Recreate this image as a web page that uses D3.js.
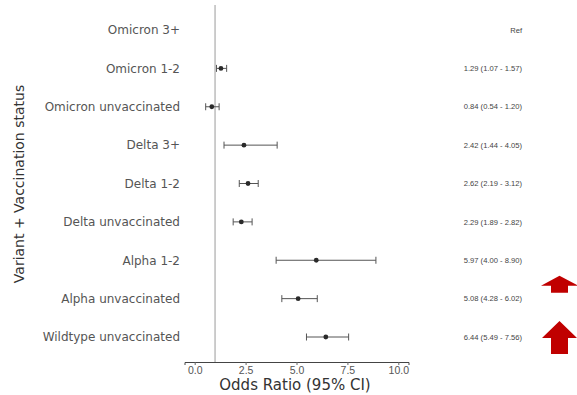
<!DOCTYPE html>
<html>
<head>
<meta charset="utf-8">
<script src="https://cdn.jsdelivr.net/npm/d3@7"></script>
<style>
  html, body { margin: 0; padding: 0; background: #fff; }
  svg { display: block; }
</style>
</head>
<body>
<svg id="chart" width="577" height="395"></svg>
<script>
// forest plot: odds ratio by variant + vaccination status
const categories = [
  "Omicron 3+",
  "Omicron 1-2",
  "Omicron unvaccinated",
  "Delta 3+",
  "Delta 1-2",
  "Delta unvaccinated",
  "Alpha 1-2",
  "Alpha unvaccinated",
  "Wildtype unvaccinated",
];
// null = reference group
const oddsRatio = [null, 1.29, 0.84, 2.42, 2.62, 2.29, 5.97, 5.08, 6.44];
const ciLow = [null, 1.07, 0.54, 1.44, 2.19, 1.89, 4.0, 4.28, 5.49];
const ciHigh = [null, 1.57, 1.2, 4.05, 3.12, 2.82, 8.9, 6.02, 7.56];
const orLabels = [
  "Ref",
  "1.29 (1.07 - 1.57)",
  "0.84 (0.54 - 1.20)",
  "2.42 (1.44 - 4.05)",
  "2.62 (2.19 - 3.12)",
  "2.29 (1.89 - 2.82)",
  "5.97 (4.00 - 8.90)",
  "5.08 (4.28 - 6.02)",
  "6.44 (5.49 - 7.56)",
];
const xTicks = [0, 2.5, 5, 7.5, 10];
const refValue = 1;
// red arrows pointing at rows on the right
const arrowRows = ["Alpha unvaccinated", "Wildtype unvaccinated"];

const svg = d3.select("#chart");

const x = d3.scaleLinear().domain([-0.5, 10.5]).range([184.5, 408.5]);
const y = d3.scalePoint().domain(categories).range([30, 337]);
const axisY = 362;

const rows = categories.map((c, i) => ({
  name: c,
  or: oddsRatio[i],
  lo: ciLow[i],
  hi: ciHigh[i],
  label: orLabels[i],
}));

// reference line at OR = 1
svg.append("line")
  .attr("x1", x(refValue)).attr("x2", x(refValue))
  .attr("y1", 5).attr("y2", axisY)
  .attr("stroke", "#9a9a9a")
  .attr("stroke-width", 1);

// x axis
const xAxis = svg.append("g")
  .attr("transform", `translate(0,${axisY})`)
  .call(d3.axisBottom(x).tickValues(xTicks).tickFormat(d3.format(".1f")).tickSizeOuter(0).tickSize(3));
xAxis.select(".domain").attr("stroke", "#444").attr("stroke-width", 1);
xAxis.selectAll(".tick line").attr("stroke", "#666");
xAxis.selectAll(".tick text")
  .attr("fill", "#555")
  .attr("y", 5)
  .attr("font-family", "Liberation Sans, Arial, sans-serif")
  .attr("font-size", 10.5);

svg.append("text")
  .attr("x", 295).attr("y", 390)
  .attr("text-anchor", "middle")
  .attr("font-family", "DejaVu Sans, sans-serif")
  .attr("font-size", 15)
  .attr("fill", "#333")
  .text("Odds Ratio (95% CI)");

// y category labels
svg.append("g").selectAll("text")
  .data(rows)
  .join("text")
  .attr("x", 180)
  .attr("y", (d) => y(d.name))
  .attr("dy", "0.36em")
  .attr("text-anchor", "end")
  .attr("font-family", "DejaVu Sans, sans-serif")
  .attr("font-size", 12)
  .attr("fill", "#555")
  .text((d) => d.name);

svg.append("text")
  .attr("transform", `translate(24,184) rotate(-90)`)
  .attr("text-anchor", "middle")
  .attr("font-family", "DejaVu Sans, sans-serif")
  .attr("font-size", 14)
  .attr("fill", "#333")
  .text("Variant + Vaccination status");

// error bars
const est = rows.filter((d) => d.or !== null);
const bars = svg.append("g").selectAll("g")
  .data(est)
  .join("g")
  .attr("stroke", "#555")
  .attr("stroke-width", 1);

bars.append("line")
  .attr("x1", (d) => x(d.lo)).attr("x2", (d) => x(d.hi))
  .attr("y1", (d) => y(d.name)).attr("y2", (d) => y(d.name));
bars.append("line")
  .attr("x1", (d) => x(d.lo)).attr("x2", (d) => x(d.lo))
  .attr("y1", (d) => y(d.name) - 3.5).attr("y2", (d) => y(d.name) + 3.5);
bars.append("line")
  .attr("x1", (d) => x(d.hi)).attr("x2", (d) => x(d.hi))
  .attr("y1", (d) => y(d.name) - 3.5).attr("y2", (d) => y(d.name) + 3.5);

svg.append("g").selectAll("circle")
  .data(est)
  .join("circle")
  .attr("cx", (d) => x(d.or))
  .attr("cy", (d) => y(d.name))
  .attr("r", 2.4)
  .attr("fill", "#2a2a2a");

// OR (95% CI) text column
svg.append("g").selectAll("text")
  .data(rows)
  .join("text")
  .attr("x", 522)
  .attr("y", (d) => y(d.name))
  .attr("dy", "0.35em")
  .attr("text-anchor", "end")
  .attr("font-family", "Liberation Sans, Arial, sans-serif")
  .attr("font-size", 7.6)
  .attr("fill", "#444")
  .text((d) => d.label);

// red up-arrows beside the last rows
const arrowShapes = [
  { row: arrowRows[0], top: -23, neck: -13, bottom: -6, half: 18.5 },
  { row: arrowRows[1], top: -16, neck: 1, bottom: 17, half: 17.5 },
];
const cx = 559.5;
svg.append("g").selectAll("path")
  .data(arrowShapes)
  .join("path")
  .attr("fill", "#c00000")
  .attr("d", (a) => {
    const yc = y(a.row);
    const p = d3.path();
    p.moveTo(cx, yc + a.top);
    p.lineTo(cx + a.half, yc + a.neck);
    p.lineTo(cx + 8.5, yc + a.neck);
    p.lineTo(cx + 8.5, yc + a.bottom);
    p.lineTo(cx - 8.5, yc + a.bottom);
    p.lineTo(cx - 8.5, yc + a.neck);
    p.lineTo(cx - a.half, yc + a.neck);
    p.closePath();
    return p.toString();
  });
</script>
</body>
</html>
